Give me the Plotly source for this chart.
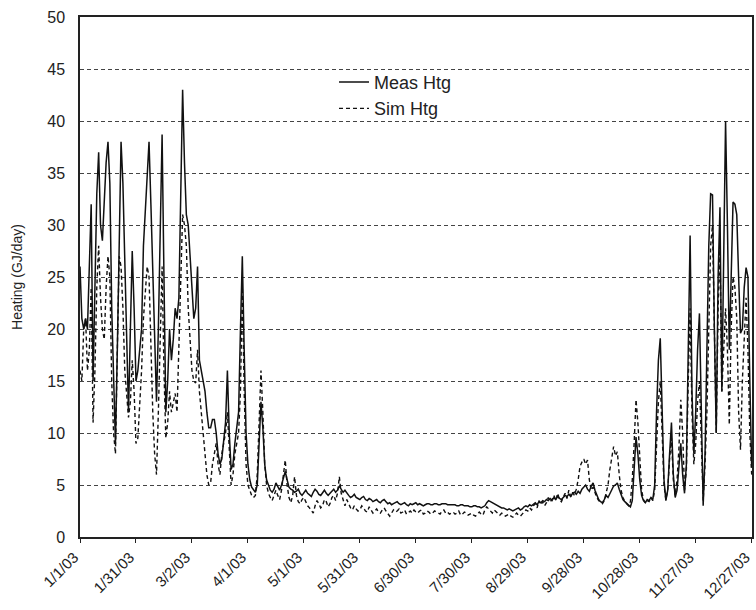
import datetime as dt
import plotly.graph_objects as go

start_date = "2003-01-01"
end_date = "2003-12-27 04:00"

tick_dates = ["2003-01-01", "2003-01-31", "2003-03-02", "2003-04-01", "2003-05-01",
              "2003-05-31", "2003-06-30", "2003-07-30", "2003-08-29", "2003-09-28",
              "2003-10-28", "2003-11-27", "2003-12-27"]
tick_labels = ["1/1/03", "1/31/03", "3/2/03", "4/1/03", "5/1/03", "5/31/03", "6/30/03",
               "7/30/03", "8/29/03", "9/28/03", "10/28/03", "11/27/03", "12/27/03"]

meas_htg = [
    26, 21, 20, 21, 20, 27, 32, 15, 25, 33,
    37, 30, 28.5, 32, 36, 38, 34, 22, 14, 9,
    18, 30, 38, 34, 26, 20, 12, 20, 27.5, 22,
    15, 16, 18, 20, 28, 31, 35, 38, 32, 25,
    18, 13, 20, 30, 38.7, 25, 12, 15, 20, 17,
    19, 22, 21, 23, 35, 43, 36, 31, 30, 27,
    25, 21, 22, 26, 17, 16, 15, 14, 12, 10.5,
    10.5, 11.3, 11.3, 10, 8, 7, 7.5, 9, 11, 16,
    10, 6.5, 7, 9, 10.5, 12, 20, 27, 18, 10,
    7, 5.5, 4.8, 4.5, 4.3, 5, 9, 13, 10.5, 7,
    5.5, 5, 4.5, 4.3, 4.6, 5.2, 4.8, 4.5, 5, 5.8,
    6.3, 5.5, 4.8, 4.6, 4.5, 4.3, 4.4, 4.6, 4.2, 4.0,
    4.3, 4.5, 4.2, 4.0, 3.9, 4.3, 4.6, 4.4, 4.1, 4.0,
    4.3, 4.5, 4.2, 4.0, 4.2, 4.4, 4.6, 4.3, 4.5, 4.9,
    4.6, 4.3, 4.5, 4.2, 4.0, 3.8, 3.9, 4.1, 3.8, 3.7,
    3.6, 3.8, 3.9, 3.6, 3.5, 3.7, 3.6, 3.4, 3.5, 3.6,
    3.4, 3.3, 3.5, 3.6, 3.4, 3.2, 3.3, 3.1, 3.2, 3.3,
    3.4, 3.2, 3.1, 3.2, 3.3, 3.1, 3.0, 3.2, 3.1, 3.2,
    3.3, 3.1, 3.2, 3.1, 3.0, 3.1, 3.2, 3.2, 3.1, 3.1,
    3.2, 3.2, 3.1, 3.1, 3.2, 3.2, 3.2, 3.1, 3.1, 3.1,
    3.1, 3.1, 3.0, 3.0, 3.1, 3.1, 3.0, 3.0, 3.0, 2.9,
    2.9, 3.0, 3.0, 2.9, 2.9, 2.8, 2.9, 3.0, 3.3, 3.5,
    3.4, 3.3, 3.2, 3.1, 3.0, 2.9, 2.8, 2.8, 2.7, 2.6,
    2.7, 2.6, 2.5, 2.6, 2.7, 2.8, 2.6, 2.7, 2.9, 3.0,
    2.9, 3.1, 3.0, 3.2, 3.3, 3.1, 3.4, 3.3, 3.5, 3.4,
    3.6, 3.5, 3.7, 3.5, 3.8, 3.6, 3.9, 3.7, 3.6, 3.8,
    4.0, 3.9, 4.1, 3.9, 4.2, 4.3, 4.1, 4.4, 4.2, 4.6,
    4.8, 5.0, 4.6, 4.4, 4.9, 5.2, 4.5, 4.0, 3.6, 3.4,
    3.3, 3.6, 4.0, 3.8, 4.2, 4.6, 4.9, 5.0, 5.2, 4.6,
    4.0, 3.6, 3.4, 3.2, 3.0, 2.9, 3.5, 6.5, 9.6, 8.0,
    5.5, 4.0, 3.5, 3.3, 3.6, 3.5, 3.8, 3.6, 5.0, 12.0,
    17.0, 19.1, 12.0, 5.5, 3.5, 4.5, 8.0, 11.0, 6.0, 3.8,
    4.5, 6.5, 9.0, 6.0, 4.2, 7.0, 18.0, 29.0, 14.0, 8.0,
    12.0, 18.0, 21.5, 10.0, 3.0, 8.0, 18.0, 28.0, 33.0, 32.9,
    20.0, 10.0, 25.0, 31.7, 14.0, 28.0, 40.0, 30.0, 18.0, 25.0,
    32.2, 32.0, 31.0, 25.0, 19.6, 20.0, 24.0, 25.9, 25.0, 15.0, 6.7,
]

sim_htg = [
    16, 15, 20, 21, 16, 18, 24, 11, 16, 24,
    28, 23, 20, 19, 24, 27, 25, 15, 10, 8,
    18, 27, 26, 22, 16, 14, 11.5, 13, 17, 14,
    9, 9.5, 13, 16, 21, 24, 26, 25, 18, 12,
    8, 6, 12, 20, 26, 16, 9.5, 11, 14, 12,
    13, 13.8, 12, 18, 26, 31, 30, 28, 22, 19,
    16, 15, 14.8, 18, 14, 12, 10, 8, 6, 5,
    5.2, 7, 8, 9, 7, 6, 8, 9, 10, 12,
    8, 5, 6, 8, 9, 10, 14, 24, 14, 7,
    5, 4.5, 4, 3.8, 4, 6, 12, 16, 12, 7,
    5, 4.2, 3.8, 3.5, 4, 4.5, 4, 3.6, 4.5, 6,
    7.4, 5, 3.8, 3.3, 4, 5.8, 4, 3.4, 3.2, 3.6,
    3.8, 3.4, 3.0, 2.8, 2.5, 2.3, 3.0, 3.5, 3.2, 2.8,
    3.0, 3.6, 3.4, 2.9, 3.2, 3.8, 4.0, 3.5, 4.2, 5.8,
    4.2, 3.5, 3.0, 3.6, 3.2, 2.8, 2.6, 3.0, 2.7, 2.5,
    2.6, 3.0, 2.8, 2.5, 2.4, 2.9, 2.6, 2.3, 2.5, 2.7,
    2.4, 2.3, 2.6, 2.8, 2.5, 2.2, 2.0, 2.3, 2.6, 2.4,
    2.5, 2.7, 2.3, 2.4, 2.6, 2.2, 2.4, 2.5, 2.3, 2.6,
    2.4, 2.3, 2.5, 2.6, 2.2, 2.3, 2.5, 2.4, 2.2, 2.3,
    2.5, 2.4, 2.3, 2.2, 2.5, 2.6, 2.3, 2.4, 2.2, 2.3,
    2.4, 2.2, 2.3, 2.5, 2.1, 2.2, 2.4, 2.3, 2.1, 2.2,
    2.3, 2.1, 2.0, 2.2, 2.4, 2.2, 2.1, 2.6, 2.9, 2.7,
    2.5, 2.3, 2.6, 2.4, 2.2, 2.1, 2.3, 2.2, 2.0, 2.1,
    2.2, 2.0, 1.9, 2.1, 2.3, 2.1, 2.0, 2.2, 2.4, 2.6,
    2.5, 2.8, 2.6, 3.0, 3.2, 2.8, 3.5, 3.1, 3.4, 3.0,
    3.3, 3.8, 3.4, 3.6, 4.0, 3.5, 4.2, 3.6, 3.4, 3.8,
    4.2, 3.7, 4.5, 3.9, 4.3, 4.0, 4.6, 5.5, 6.8, 7.2,
    7.5, 7.0, 7.4, 5.5, 4.5, 4.8, 4.2, 3.8, 3.5, 3.3,
    3.2, 3.5, 4.2, 5.0, 6.5, 7.5, 8.7, 7.8, 8.2, 6.0,
    4.5, 3.8, 3.4, 3.2, 3.0, 3.4, 5.5, 9.0, 13.2, 11.0,
    7.0, 4.5, 3.6, 3.3, 3.5, 3.4, 3.8, 3.5, 4.5, 9.0,
    13.0, 15.0, 10.0, 5.0, 3.6, 4.5, 7.5, 9.5, 5.5, 4.0,
    5.5, 8.5, 13.2, 10.0, 4.5, 6.5, 15.0, 22.0, 12.0, 7.0,
    9.0, 13.0, 15.0, 8.0, 3.5, 7.0, 12.0, 20.0, 28.0, 30.0,
    18.0, 10.0, 22.0, 28.0, 14.0, 18.0, 22.0, 18.0, 10.8, 20.0,
    25.0, 24.0, 21.0, 12.0, 8.4, 15.0, 20.0, 23.0, 18.0, 10.0, 6.0,
]

d0 = dt.date.fromisoformat(start_date)
dates = [(d0 + dt.timedelta(days=i)).isoformat() for i in range(len(meas_htg))]

fig = go.Figure()
fig.add_trace(go.Scatter(x=dates, y=meas_htg, mode="lines", name="Meas Htg",
                         line=dict(color="#111111", width=1.5)))
fig.add_trace(go.Scatter(x=dates, y=sim_htg, mode="lines", name="Sim Htg",
                         line=dict(color="#111111", width=1.4, dash="4px,3px")))

font_family = "Liberation Sans, Arial, sans-serif"
fig.update_layout(
    width=756, height=610,
    margin=dict(l=80, r=4, t=17, b=73),
    paper_bgcolor="white", plot_bgcolor="white",
    font=dict(family=font_family, color="#222222", size=15),
    showlegend=True,
    legend=dict(x=0.378, y=0.91, xanchor="left", yanchor="top",
                bgcolor="rgba(0,0,0,0)", font=dict(size=18),
                tracegroupgap=0, itemwidth=30),
    xaxis=dict(
        range=[start_date, end_date], tickvals=tick_dates, ticktext=tick_labels,
        tickangle=-45, tickfont=dict(size=15), showgrid=False, automargin=False,
        ticklabeloverflow="allow", ticklabelshift=-6,
        showline=True, linecolor="#222222", linewidth=1.5, mirror=True,
        ticks="outside", ticklen=4, tickcolor="#222222", zeroline=False,
    ),
    yaxis=dict(
        range=[0, 50], dtick=5, tickfont=dict(size=16), automargin=False,
        title=dict(text="Heating (GJ/day)", font=dict(size=14), standoff=21),
        showgrid=True, gridcolor="#444444", griddash="4px,3px", gridwidth=1,
        showline=True, linecolor="#222222", linewidth=1.5, mirror=True,
        ticks="", ticklabelstandoff=10, zeroline=False,
    ),
)

# remove the default page margin so the 756x610 figure fills the window exactly
fig.write_html(
    "out.html",
    config={"displayModeBar": False},
    post_script="document.body.style.margin='0';document.body.style.overflow='hidden';",
)
